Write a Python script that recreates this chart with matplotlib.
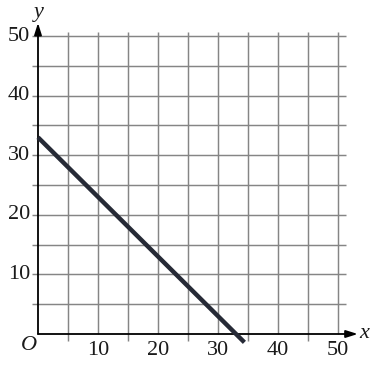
import matplotlib
matplotlib.use("Agg")
import matplotlib.pyplot as plt

# data
line_x = [0, 34.4]
line_y = [33, -1.4]
tick_values = [10, 20, 30, 40, 50]
grid_values = [5, 10, 15, 20, 25, 30, 35, 40, 45, 50]

fig = plt.figure(figsize=(3.74, 3.74), dpi=100)
ax = fig.add_axes([0, 0, 1, 1])
ax.set_xlim(-38 / 6.0, (374 - 38) / 6.0)
ax.set_ylim(-(374 - 334) / 5.96, 334 / 5.96)
ax.axis("off")

grid_color = "#858585"
glw = 1.05
for g in grid_values:
    # vertical lines; odd multiples of 5 extend below axis as ticks
    ybot = -1.2 if (g // 5) % 2 == 1 else 0
    ax.plot([g, g], [ybot, 50.7], color=grid_color, lw=glw, zorder=1,
            solid_capstyle="butt")
    # horizontal lines
    ax.plot([-1.0, 51.3], [g, g], color=grid_color, lw=glw, zorder=1,
            solid_capstyle="butt")

# axes with arrows
ax.annotate("", xy=(53.3, 0), xytext=(0, 0),
            arrowprops=dict(arrowstyle="-|>,head_length=0.7,head_width=0.22",
                            lw=1.3, color="black", shrinkA=0, shrinkB=0),
            zorder=3)
ax.annotate("", xy=(0, 52.2), xytext=(0, 0),
            arrowprops=dict(arrowstyle="-|>,head_length=0.7,head_width=0.22",
                            lw=1.3, color="black", shrinkA=0, shrinkB=0),
            zorder=3)

# main line
ax.plot(line_x, line_y, color="#262a36", lw=3.2, zorder=4, solid_capstyle="butt")

font = "Liberation Serif"
fs = 16
for t in tick_values:
    ax.text(t, -2.75, str(t), ha="center", va="center", fontsize=fs, family=font,
            color="#1a1a1a")
    ax.text(-1.3, t, str(t), ha="right", va="center", fontsize=fs, family=font,
            color="#1a1a1a")

ax.text(-1.5, -1.9, "O", ha="center", va="center", fontsize=fs, family=font,
        style="italic", color="#1a1a1a")
ax.text(54.3, 0.1, "x", ha="center", va="center", fontsize=fs, family=font,
        style="italic", color="#1a1a1a")
ax.text(0.1, 54.0, "y", ha="center", va="center", fontsize=fs, family=font,
        style="italic", color="#1a1a1a")

fig.savefig("out.png", dpi=100, facecolor="white")
